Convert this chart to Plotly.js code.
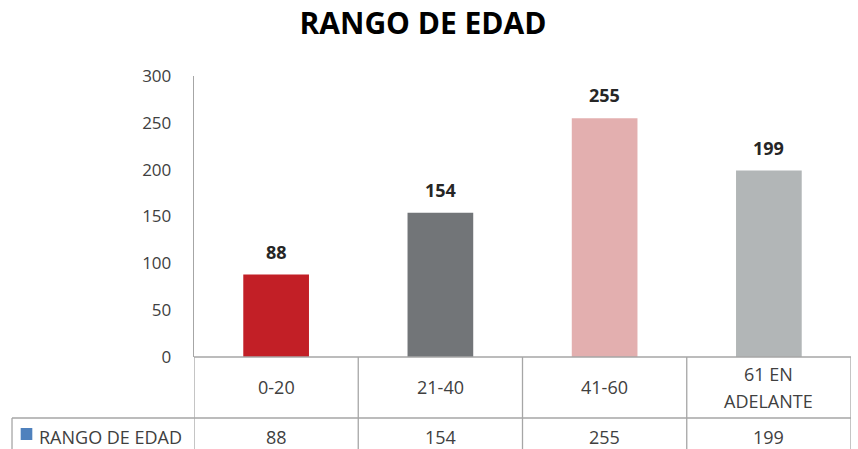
<!DOCTYPE html>
<html>
<head>
<meta charset="utf-8">
<script src="https://cdn.plot.ly/plotly-3.0.1.min.js"></script>
<style>html,body{margin:0;padding:0;background:#fff;}#chart{width:858px;height:449px;}</style>
</head>
<body>
<div id="chart"></div>
<script>
const chartTitle = 'RANGO DE EDAD';
const seriesName = 'RANGO DE EDAD';
const categories = ['0-20', '21-40', '41-60', '61 EN\nADELANTE'];
const values = [88, 154, 255, 199];
const barColors = ['#C21F26', '#727578', '#E3AFAF', '#B2B6B7'];
const yTicks = [0, 50, 100, 150, 200, 250, 300];

const FONT = 'Open Sans, sans-serif';
const LINE = '#A6A6A6';
const catKeys = categories.map(c => c.replace('\n', ' '));

const trace = {
  type: 'bar',
  x: catKeys,
  y: values,
  marker: { color: barColors },
  width: 0.4,
  hoverinfo: 'skip'
};

const shapes = [];
const rowTop = 0, rowMid = -0.217, rowBot = -0.36;
for (let i = 0; i <= categories.length; i++) {
  shapes.push({ type: 'line', xref: 'x', yref: 'paper', x0: i - 0.5, x1: i - 0.5, y0: rowTop, y1: rowBot, line: { color: LINE, width: 1.3 } });
}
shapes.push({ type: 'line', xref: 'paper', yref: 'paper', x0: 0, x1: 1, y0: 0, y1: 0, line: { color: LINE, width: 1.3 } });
shapes.push({ type: 'line', xref: 'paper', yref: 'paper', x0: -0.277, x1: 1, y0: rowMid, y1: rowMid, line: { color: LINE, width: 1.3 } });
shapes.push({ type: 'line', xref: 'paper', yref: 'paper', x0: -0.277, x1: -0.277, y0: rowMid, y1: rowBot, line: { color: LINE, width: 1.3 } });
shapes.push({ type: 'rect', xref: 'paper', yref: 'paper', x0: -0.2638, x1: -0.2461, y0: -0.2527, y1: -0.2954, fillcolor: '#4F81BD', line: { width: 0 } });

const annotations = [];
values.forEach((v, i) => {
  annotations.push({ x: catKeys[i], y: v, xref: 'x', yref: 'y', text: '<b>' + v + '</b>', showarrow: false, xanchor: 'center', yanchor: 'bottom', yshift: 9, font: { family: FONT, size: 18, color: '#262626' } });
  annotations.push({ x: catKeys[i], y: -0.2836, xref: 'x', yref: 'paper', text: String(v), showarrow: false, xanchor: 'center', yanchor: 'middle', font: { family: FONT, size: 18, color: '#404040' } });
  const lines = categories[i].split('\n');
  const step = 27;
  lines.forEach((ln, j) => {
    annotations.push({ x: catKeys[i], y: -0.1085, xref: 'x', yref: 'paper', text: ln, showarrow: false, xanchor: 'center', yanchor: 'middle', yshift: ((lines.length - 1) / 2 - j) * step, font: { family: FONT, size: 18, color: '#404040' } });
  });
});
annotations.push({ x: -0.239, y: -0.2836, xref: 'paper', yref: 'paper', xanchor: 'left', yanchor: 'middle', text: seriesName, showarrow: false, font: { family: FONT, size: 18, color: '#404040' } });

const layout = {
  width: 858, height: 449,
  margin: { l: 194, r: 7, t: 76, b: 92 },
  paper_bgcolor: '#fff', plot_bgcolor: '#fff',
  title: { text: '<b>' + chartTitle + '</b>', x: 0.493, xanchor: 'center', y: 0.948, yanchor: 'middle', font: { family: FONT, size: 30, color: '#000' } },
  showlegend: false,
  bargap: 0.6,
  xaxis: { type: 'category', showticklabels: false, showline: false, showgrid: false, zeroline: false, ticks: '', range: [-0.5, 3.5], fixedrange: true },
  yaxis: { range: [0, 300], tickvals: yTicks, showgrid: false, zeroline: false, showline: true, linecolor: LINE, linewidth: 1.3,
           ticks: 'outside', ticklen: 18, tickcolor: 'rgba(0,0,0,0)', tickfont: { family: FONT, size: 17, color: '#404040' }, fixedrange: true },
  shapes: shapes,
  annotations: annotations
};

Plotly.newPlot('chart', [trace], layout, { displayModeBar: false, staticPlot: true });
</script>
</body>
</html>
